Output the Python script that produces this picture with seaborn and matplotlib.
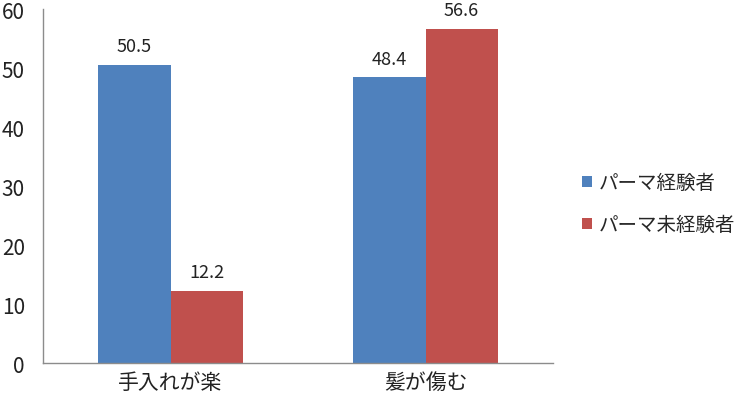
import matplotlib
matplotlib.use("Agg")
import matplotlib.pyplot as plt
import seaborn as sns
import pandas as pd

categories = ["手入れが楽", "髪が傷む"]
series_names = ["パーマ経験者", "パーマ未経験者"]
experienced = [50.5, 48.4]
inexperienced = [12.2, 56.6]
y_ticks = [0, 10, 20, 30, 40, 50, 60]

df = pd.DataFrame({
    "category": categories * 2,
    "group": [series_names[0]] * 2 + [series_names[1]] * 2,
    "value": experienced + inexperienced,
})

sns.set_style("white")
plt.rcParams["font.family"] = ["Noto Sans CJK JP", "DejaVu Sans"]

fig = plt.figure(figsize=(7.55, 4.02), dpi=100)
ax = fig.add_axes([0.057, 0.0945, 0.6755, 0.8805])

sns.barplot(data=df, x="category", y="value", hue="group",
            palette=["#4F81BD", "#C0504D"], width=0.565, saturation=1,
            linewidth=0, ax=ax)

for c in ax.containers:
    ax.bar_label(c, labels=[f"{v:.1f}" for v in c.datavalues],
                 padding=7, fontsize=13, color="#222222")

ax.set_ylim(0, 60)
ax.set_yticks(y_ticks)
ax.set_xlabel("")
ax.set_ylabel("")
ax.tick_params(axis="y", length=0, labelsize=15, colors="#222222", pad=13)
ax.tick_params(axis="x", length=0, labelsize=15, colors="#222222", pad=6)
for s in ["top", "right"]:
    ax.spines[s].set_visible(False)
for s in ["left", "bottom"]:
    ax.spines[s].set_color("#8c8c8c")
    ax.spines[s].set_linewidth(1)

ax.legend(loc="center left", bbox_to_anchor=(1.03, 0.45), frameon=False,
          fontsize=14, handlelength=0.5, handleheight=0.5,
          labelspacing=1.1, handletextpad=0.35, borderpad=0.2)

fig.savefig("out.png", dpi=100)
